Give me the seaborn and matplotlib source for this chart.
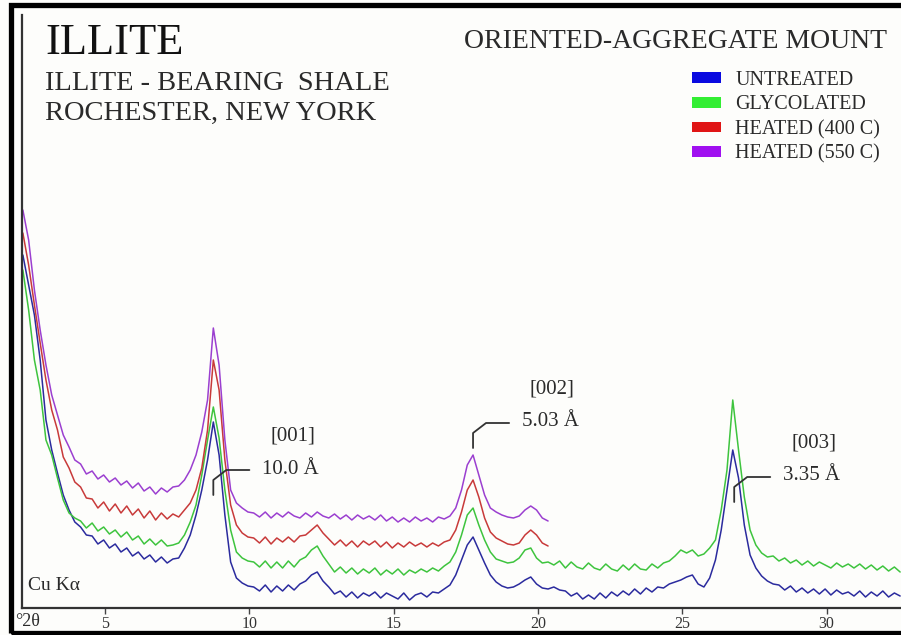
import numpy as np
import matplotlib
matplotlib.use("Agg")
import matplotlib.pyplot as plt
from matplotlib.patches import Patch, Rectangle
import seaborn as sns

# X-ray diffraction traces, Cu K-alpha (arbitrary intensity units)
two_theta = np.round(np.arange(2.15, 32.6, 0.2), 2)   # 2.15 ... 32.55 deg 2-theta

untreated = [353, 323, 293, 248, 188, 158, 135, 113, 98, 86,
             81, 73, 72, 64, 68, 60, 64, 56, 60, 52,
             56, 49, 53, 46, 51, 45, 49, 50, 60, 73,
             93, 118, 148, 186, 153, 93, 46, 30, 25, 22,
             21, 17, 23, 16, 22, 17, 23, 18, 24, 27,
             33, 36, 27, 21, 14, 17, 11, 16, 10, 15,
             12, 16, 10, 15, 12, 9, 15, 8, 13, 15,
             11, 16, 15, 19,
             23, 33, 48, 63, 71, 58, 45, 33, 26, 22, 20, 21, 24, 28, 31, 24, 20, 19,
             21, 18, 17, 12, 15, 9, 13, 9, 15, 10, 16, 12, 17, 13, 19, 14, 20, 16, 21, 20, 24,
             26, 28, 31, 33, 24, 21, 30, 48, 78, 118, 158, 130, 83, 53, 40, 32, 27, 24,
             23, 18, 22, 16, 20, 15, 19, 14, 19, 13, 18, 14, 16, 12, 17, 11, 16, 12, 17, 11, 15, 12]

glycolated = [338, 298, 248, 218, 168, 153, 130, 108, 95, 90,
              87, 80, 85, 77, 81, 74, 78, 71, 76, 68,
              72, 64, 69, 63, 68, 62, 63, 65, 73, 86,
              103, 133, 168, 201, 170, 118, 78, 56, 50, 47,
              46, 41, 47, 40, 46, 40, 47, 41, 48, 51,
              58, 62, 52, 44, 36, 41, 35, 40, 34, 39,
              35, 40, 33, 38, 34, 39, 33, 38, 35, 39,
              36, 40, 37, 42,
              46, 56, 73, 93, 100, 83, 68, 56, 49, 47, 45, 46, 50, 58, 60, 50, 45, 46,
              43, 47, 40, 46, 41, 39, 45, 40, 38, 44, 39, 37, 43, 38, 44, 39, 38, 44, 40, 45, 47,
              52, 58, 55, 58, 52, 54, 60, 68, 98, 138, 208, 158, 111, 78, 63, 55, 51, 52,
              47, 50, 45, 48, 43, 47, 42, 46, 43, 40, 45, 41, 44, 40, 44, 39, 43, 38, 42, 37, 41, 36]

heated_400 = [375, 343, 303, 265, 228, 198, 178, 151, 140, 126,
              121, 110, 109, 100, 106, 97, 104, 95, 102, 93,
              99, 90, 97, 88, 95, 89, 94, 91, 98, 105,
              118, 140, 178, 248, 218, 148, 103, 83, 75, 71,
              70, 65, 71, 64, 70, 66, 71, 66, 72, 73,
              78, 83, 75, 69, 63, 68, 62, 67, 61, 67,
              63, 67, 61, 66, 60, 65, 61, 66, 62, 65,
              61, 65, 62, 66,
              68, 78, 96, 118, 128, 111, 90, 76, 70, 67, 64, 63, 65, 73, 78, 73, 65, 62]

heated_550 = [398, 368, 318, 278, 243, 213, 193, 173, 161, 148,
              144, 134, 137, 129, 133, 126, 130, 123, 127, 120,
              125, 117, 121, 114, 120, 116, 121, 122, 128, 138,
              153, 176, 208, 280, 243, 168, 118, 105, 100, 96,
              95, 91, 96, 90, 95, 91, 96, 92, 90, 95,
              91, 96, 92, 90, 94, 89, 93, 88, 93, 89,
              92, 88, 93, 87, 91, 86, 90, 86, 91, 87,
              90, 86, 91, 89,
              92, 100, 118, 143, 153, 133, 113, 100, 96, 93, 91, 90, 92, 98, 102, 98, 90, 87]

series_names = ['UNTREATED', 'GLYCOLATED', 'HEATED (400 C)', 'HEATED (550 C)']
line_colors = ['#2b2b9e', '#3ec43e', '#c83a3a', '#9b3fd0']
swatch_colors = ['#0a0ae0', '#33ee33', '#e01515', '#a010f0']

# peak labels
peak_2theta = [8.75, 17.75, 26.8]
peak_hkl = ['[001]', '[002]', '[003]']
peak_d = ['10.0 Å', '5.03 Å', '3.35 Å']
leader_base = [113, 160, 106]

sns.set_style("white")
plt.rcParams['font.family'] = ['Liberation Serif', 'DejaVu Serif']
bg = '#fdfdfb'
ink = '#2a2a2a'

fig = plt.figure(figsize=(9.01, 6.35), dpi=100, facecolor=bg)
ax = fig.add_axes([22/901, 27/635, 879/901, 593/635])
ax.set_facecolor(bg)

for vals, col in zip([untreated, glycolated, heated_400, heated_550], line_colors):
    sns.lineplot(x=two_theta[:len(vals)], y=vals, ax=ax, color=col, lw=1.1,
                 estimator=None, sort=False)

ax.set_xlim(2.12, 32.58)
ax.set_ylim(0, 593)
ax.set_xticks([5, 10, 15, 20, 25, 30])
ax.set_yticks([])
ax.set_xlabel('')
ax.set_ylabel('')
for s in ['top', 'right']:
    ax.spines[s].set_visible(False)
for s in ['left', 'bottom']:
    ax.spines[s].set_color('#333333')
    ax.spines[s].set_linewidth(1.6)
ax.tick_params(axis='x', direction='out', length=4, width=1, color='#444444',
               labelsize=11.5, labelcolor='#333333', pad=2, bottom=True)

# peak annotations with leader lines
for t, hkl, d, b in zip(peak_2theta, peak_hkl, peak_d, leader_base):
    ax.plot([t, t, t + 0.45, t + 1.25], [b, b + 15, b + 25, b + 25],
            color='#333333', lw=1.3)
    ax.text(t + 1.7, b + 26, d, ha='left', va='center', fontsize=15, color=ink)
    ax.text(t + 2.75, b + 59, hkl, ha='center', va='center', fontsize=15, color=ink)

# titles
fig.text(45/901, 1 - 43/635, 'ILLITE', fontsize=32, color='#111111', va='center', ha='left')
fig.text(45/901, 1 - 84/635, 'ILLITE - BEARING  SHALE', fontsize=20.5, color=ink,
         va='center', ha='left')
fig.text(45/901, 1 - 113/635, 'ROCHESTER, NEW YORK', fontsize=20.5, color=ink,
         va='center', ha='left')
fig.text(887/901, 1 - 42/635, 'ORIENTED-AGGREGATE MOUNT', fontsize=20, color=ink,
         va='center', ha='right')
fig.text(28/901, 1 - 585/635, 'Cu K\u03b1', fontsize=14, color=ink, va='center', ha='left')
fig.text(15/901, 1 - 622/635, '\u00b02\u03b8', fontsize=13, color=ink, va='center', ha='left')

handles = [Patch(facecolor=c, edgecolor='none') for c in swatch_colors]
fig.legend(handles, series_names, loc='upper left', bbox_to_anchor=(692/901, 1 - 71/635),
           frameon=False, fontsize=14.5, handlelength=1.45, handleheight=0.45,
           handletextpad=0.7, labelspacing=0.27, borderpad=0, borderaxespad=0,
           labelcolor=ink)

# outer black frame
fig.patches.append(Rectangle((10.5/901, 2.5/635), 900/901, 628/635, transform=fig.transFigure,
                             fill=False, edgecolor='black', lw=3.8))

fig.savefig('out.png', dpi=100, facecolor=fig.get_facecolor())
